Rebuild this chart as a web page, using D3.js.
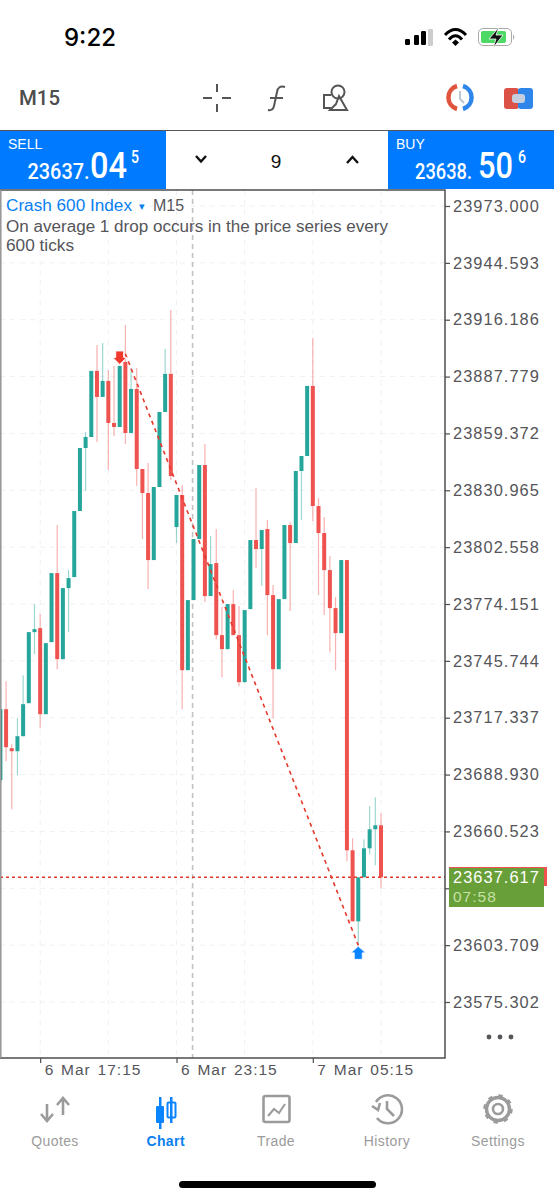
<!DOCTYPE html>
<html><head><meta charset="utf-8">
<script src="https://cdn.jsdelivr.net/npm/d3@7"></script>
<style>html,body{margin:0;padding:0;background:#fff}svg{display:block}text{font-family:"Liberation Sans",Arial,sans-serif}</style>
</head><body><svg id="c" width="554" height="1200"></svg>
<script>
const opens=[23686.1,23721.6,23702.1,23700.6,23708.1,23724.6,23760.1,23762.1,23719.1,23755.1,23789.6,23746.6,23782.1,23787.6,23820.6,23852.1,23857.6,23890.6,23877.6,23885.6,23864.6,23862.6,23895.1,23859.6,23881.6,23841.6,23829.6,23796.1,23832.6,23870.1,23889.1,23812.6,23828.6,23741.1,23776.1,23806.6,23843.6,23778.1,23794.6,23758.6,23751.6,23774.1,23758.6,23735.1,23771.6,23806.1,23801.6,23811.6,23778.6,23741.6,23776.6,23813.6,23804.6,23840.6,23848.1,23883.1,23823.1,23809.6,23791.1,23772.1,23759.6,23796.1,23651.1,23615.6,23637.6,23652.1,23661.6,23663.6];
const highs=[23721.6,23735.6,23704.1,23717.1,23738.6,23760.1,23774.1,23769.1,23754.6,23789.6,23813.6,23782.1,23791.1,23820.6,23852.1,23860.1,23890.6,23903.6,23904.6,23891.1,23893.1,23893.1,23913.6,23892.1,23892.1,23841.6,23844.6,23832.6,23870.1,23901.6,23921.1,23828.6,23833.6,23776.1,23806.6,23843.6,23854.1,23808.1,23811.6,23772.6,23774.1,23781.1,23773.1,23771.1,23806.1,23832.1,23811.1,23816.1,23783.6,23776.6,23813.6,23815.1,23840.6,23848.1,23883.1,23907.1,23827.1,23817.6,23798.1,23777.6,23796.1,23796.1,23657.1,23637.6,23656.6,23673.1,23677.6,23669.6];
const lows=[23686.1,23695.6,23671.6,23688.6,23708.1,23724.6,23749.1,23712.1,23719.1,23755.1,23741.6,23746.6,23760.1,23787.6,23820.6,23830.6,23857.6,23855.1,23877.6,23841.1,23858.1,23862.6,23854.1,23859.6,23833.1,23806.6,23781.6,23796.1,23832.6,23870.1,23836.1,23804.6,23721.6,23741.1,23776.1,23806.6,23775.1,23778.1,23756.6,23737.6,23751.6,23758.6,23733.1,23735.1,23771.6,23792.1,23783.1,23758.6,23717.1,23741.6,23776.6,23770.6,23804.6,23816.1,23848.1,23815.6,23778.6,23768.6,23750.1,23741.1,23759.6,23645.6,23615.6,23603.6,23637.6,23649.1,23643.6,23632.1];
const closes=[23721.6,23702.6,23700.6,23708.1,23724.1,23760.1,23761.6,23719.1,23754.6,23789.6,23746.6,23782.1,23787.1,23820.6,23852.1,23857.6,23890.6,23877.6,23885.6,23864.6,23862.6,23893.1,23859.6,23881.6,23841.6,23829.6,23796.1,23832.6,23870.1,23889.1,23838.1,23828.6,23741.1,23776.1,23806.6,23843.6,23778.1,23794.1,23758.6,23751.6,23774.1,23758.6,23735.1,23771.1,23806.1,23801.6,23811.1,23778.6,23741.6,23776.6,23813.6,23804.6,23840.6,23848.1,23883.1,23823.1,23809.6,23791.1,23772.1,23759.6,23796.1,23651.1,23615.6,23637.6,23652.1,23661.6,23663.6,23637.6];
const priceTicks=[23973.000,23944.593,23916.186,23887.779,23859.372,23830.965,23802.558,23774.151,23745.744,23717.337,23688.930,23660.523,23632.116,23603.709,23575.302];
const hiddenTick=23632.116;
const timeTickIdx=[7,31,55];
const timeTickLabels=["6 Mar 17:15","6 Mar 23:15","7 Mar 05:15"];
const gridIdx=[7,19,31,43,55,67];
const bidPrice=23637.617, countdown="07:58";
const tradeStart={i:22,p:23899.1}, tradeEnd={i:63,p:23603.6}, sellArrow={i:21,p:23899.6}, buyArrow={i:63,p:23603.6};

const RED="#ef5350",TEAL="#26a69a",BLUE="#0a84ff",GREY="#9a9a9a",DARK="#4a4a4f";
const svg=d3.select("#c");
const x=d3.scaleLinear().domain([0,67]).range([0.4,381]);
const y=d3.scaleLinear().domain([23973,23575.302]).range([206,1002]);
const L=0,R=445,T=190,B=1058;

// chart area
const grid=svg.append("g").attr("stroke","#eef0f2").attr("stroke-width",1).attr("stroke-dasharray","5 5");
grid.selectAll("line.h").data(priceTicks).join("line").attr("x1",L).attr("x2",R).attr("y1",d=>y(d)).attr("y2",d=>y(d));
grid.selectAll("line.v").data(gridIdx).join("line").attr("x1",d=>x(d)).attr("x2",d=>x(d)).attr("y1",T).attr("y2",B);
svg.append("line").attr("x1",192.6).attr("x2",192.6).attr("y1",T).attr("y2",B).attr("stroke","#c2c2c2").attr("stroke-width",1.6).attr("stroke-dasharray","5 4");

const idx=d3.range(opens.length), col=i=>closes[i]>=opens[i]?TEAL:RED;
svg.append("g").selectAll("line").data(idx).join("line")
 .attr("x1",x).attr("x2",x).attr("y1",i=>y(highs[i])).attr("y2",i=>y(lows[i]))
 .attr("stroke",col).attr("stroke-opacity",.45).attr("stroke-width",1.2);
svg.append("g").selectAll("rect").data(idx).join("rect")
 .attr("x",i=>x(i)-2).attr("width",4)
 .attr("y",i=>y(Math.max(opens[i],closes[i]))).attr("height",i=>Math.max(1,Math.abs(y(opens[i])-y(closes[i]))))
 .attr("fill",col);

// bid line, trade line
svg.append("line").attr("x1",L).attr("x2",R).attr("y1",y(bidPrice)).attr("y2",y(bidPrice)).attr("stroke","#e5392c").attr("stroke-width",1.6).attr("stroke-dasharray","3 3");
svg.append("line").attr("x1",x(tradeStart.i)).attr("y1",y(tradeStart.p)).attr("x2",x(tradeEnd.i)).attr("y2",y(tradeEnd.p)).attr("stroke","#e5392c").attr("stroke-width",1.6).attr("stroke-dasharray","4 4");

// arrows
const sx=x(sellArrow.i), sy=y(sellArrow.p), bx=x(buyArrow.i), by=y(buyArrow.p);
svg.append("path").attr("transform",`translate(${sx},${sy})`).attr("d","M-4,-2H4V4.5H7L0,11.5L-7,4.5H-4Z").attr("fill","#f0392b").attr("stroke","#fff").attr("stroke-width",1);
svg.append("path").attr("transform",`translate(${bx},${by+1})`).attr("d","M0,0L7.5,6.5H4V13H-4V6.5H-7.5Z").attr("fill",BLUE).attr("stroke","#fff").attr("stroke-width",.8);

// frame
svg.append("path").attr("d",`M${L+.5},${B}V${T}H${R}V${B}H${L}`).attr("fill","none").attr("stroke","#4d4d52").attr("stroke-width",1.5);
svg.append("line").attr("x1",.5).attr("x2",.5).attr("y1",T).attr("y2",B).attr("stroke","#999").attr("stroke-width",1.5);

// axes (the 23632.116 label sits behind the live price box in the reference)
const yAxis=d3.axisRight(y).tickValues(priceTicks).tickSize(5).tickPadding(3).tickFormat(d=>d===hiddenTick?"":d3.format(".3f")(d));
const gy=svg.append("g").attr("transform",`translate(${R},0)`).call(yAxis);
gy.select(".domain").remove();
gy.selectAll("line").attr("stroke","#4d4d52").attr("stroke-width",1.2);
gy.selectAll("text").attr("fill","#55555a").style("font-size","16.4px").style("letter-spacing","1.05px").style("font-family",'"Liberation Sans"');
const xAxis=d3.axisBottom(x).tickValues(timeTickIdx).tickSize(5).tickFormat((d,i)=>timeTickLabels[i]);
const gx=svg.append("g").attr("transform",`translate(0,${B})`).call(xAxis);
gx.select(".domain").remove();
gx.selectAll("line").attr("stroke","#4d4d52").attr("stroke-width",1.2);
gx.selectAll("text").attr("text-anchor","start").attr("x",4).attr("y",6).attr("fill","#55555a").style("font-size","15.5px").style("word-spacing","1.5px").style("letter-spacing","1px").style("font-family",'"Liberation Sans"');

// price label
svg.append("rect").attr("x",449).attr("y",867).attr("width",98).attr("height",19).attr("fill",RED);
svg.append("rect").attr("x",449).attr("y",868).attr("width",95).attr("height",39).attr("fill","#689f38");
const t=(tx,ty,s,size,fill,extra={})=>{const e=svg.append("text").attr("x",tx).attr("y",ty).text(s).attr("fill",fill).style("font-size",size+"px");
 Object.entries(extra).forEach(([k,v])=>{if(k=="ls")e.style("letter-spacing",v);else if(k=="w")e.style("font-weight",v);else if(k=="f")e.style("font-family",v);else e.attr(k,v)});return e};
t(453,883,d3.format(".3f")(bidPrice),16.4,"#fff",{ls:"1.05px"});
t(453,902,countdown,15.5,"#c5e1a5",{ls:"1px"});

// chart title
t(6,211,"Crash 600 Index",16,"#0a7ff0",{textLength:126,lengthAdjust:"spacingAndGlyphs"});
t(138.5,210,"▾",11,"#0a7ff0");
t(153,211,"M15",16,"#55555a");
t(6,232,"On average 1 drop occurs in the price series every",16,"#55555a",{textLength:382,lengthAdjust:"spacingAndGlyphs"});
t(6,251,"600 ticks",16,"#55555a",{textLength:68,lengthAdjust:"spacingAndGlyphs"});
svg.append("g").attr("fill","#55555a").selectAll("circle").data([489,500,511]).join("circle").attr("cx",d=>d).attr("cy",1037).attr("r",2.4);

// quote bar
svg.append("line").attr("x1",0).attr("x2",554).attr("y1",130.5).attr("y2",130.5).attr("stroke","#55555a").attr("stroke-width",1.2);
svg.append("rect").attr("x",0).attr("y",131).attr("width",166).attr("height",58).attr("fill","#007bff");
svg.append("rect").attr("x",388).attr("y",131).attr("width",166).attr("height",58).attr("fill","#007bff");
const cond={f:'"Roboto","Liberation Sans"'};
t(8,149,"SELL",14,"#fff");
t(27.5,179,"23637.",22,"#fff",{...cond,w:500,textLength:62,lengthAdjust:"spacingAndGlyphs"});
t(90,178,"04",37,"#fff",{...cond,w:500,textLength:37,lengthAdjust:"spacingAndGlyphs"});
t(131,163,"5",19,"#fff",{...cond,w:500,textLength:8,lengthAdjust:"spacingAndGlyphs"});
t(396,149,"BUY",14,"#fff");
t(415,179,"23638.",22,"#fff",{...cond,w:500,textLength:57,lengthAdjust:"spacingAndGlyphs"});
t(478,178,"50",37,"#fff",{...cond,w:500,textLength:35,lengthAdjust:"spacingAndGlyphs"});
t(518,163,"6",19,"#fff",{...cond,w:500,textLength:8,lengthAdjust:"spacingAndGlyphs"});
t(276,168,"9",19,"#111",{"text-anchor":"middle"});
svg.append("path").attr("d","M196,156L201,161.5L206,156").attr("fill","none").attr("stroke","#111").attr("stroke-width",2.4);
svg.append("path").attr("d","M347,163L352.5,157L358,163").attr("fill","none").attr("stroke","#111").attr("stroke-width",2.4);

// status bar
t(90,46,"9:22",24,"#000",{"text-anchor":"middle",w:500,f:'"Inter","Roboto"'});
svg.append("g").selectAll("rect").data([[405,39,5,6,"#000"],[414,35,5,10,"#000"],[421,31,5,14,"#000"],[428,29,5,17,"#ccc"]]).join("rect")
 .attr("x",d=>d[0]).attr("y",d=>d[1]).attr("width",d=>d[2]).attr("height",d=>d[3]).attr("rx",1.2).attr("fill",d=>d[4]);
svg.append("path").attr("d","M445,35Q455.5,24 466,35M449,39.5Q455.5,32 462,39.5").attr("fill","none").attr("stroke","#000").attr("stroke-width",3);
svg.append("path").attr("d","M452,42.5L455.5,39.5L459,42.5L455.5,46Z").attr("fill","#000");
svg.append("rect").attr("x",478.5).attr("y",28.5).attr("width",33).attr("height",17).attr("rx",4.5).attr("fill","#fff").attr("stroke","#aaa");
svg.append("rect").attr("x",481).attr("y",31).attr("width",25).attr("height",12).attr("rx",2).attr("fill","#4cd964");
svg.append("path").attr("d","M513,34v6q2.5,-3 0,-6").attr("fill","#aaa");
svg.append("path").attr("d","M499,27L489,39H496L493,48L503,35H496Z").attr("fill","#111").attr("stroke","#fff").attr("stroke-width",.8);

// toolbar
t(19,105,"M15",21,"#4d4d4d",{f:'"Roboto"',w:500,textLength:41,lengthAdjust:"spacingAndGlyphs"});
svg.append("path").attr("d","M217,84V92M217,104V112M203,98H212M222,98H231").attr("stroke","#555").attr("stroke-width",2).attr("fill","none");
svg.append("path").attr("d","M285,87Q278,85 277,92L274,106Q273,111 268,110M270,98H283").attr("stroke","#555").attr("stroke-width",2).attr("fill","none");
svg.append("path").attr("d","M331,95H324V108H331M336,104L330,110H347L339,96Z").attr("stroke","#555").attr("stroke-width",2).attr("fill","none");
svg.append("circle").attr("cx",338).attr("cy",92).attr("r",6.5).attr("stroke","#555").attr("stroke-width",2).attr("fill","none");
svg.append("path").attr("d","M457,86A12,12 0 0,0 457,109").attr("stroke","#e0533d").attr("stroke-width",4.5).attr("fill","none");
svg.append("path").attr("d","M463,86A12,12 0 0,1 463,109").attr("stroke","#2f86ea").attr("stroke-width",4.5).attr("fill","none");
svg.append("path").attr("d","M460,91V99L464,103").attr("stroke","#b6c2cf").attr("stroke-width",1.8).attr("fill","none");
svg.append("rect").attr("x",504).attr("y",88).attr("width",15).attr("height",21).attr("rx",3).attr("fill","#dc5145");
svg.append("rect").attr("x",518).attr("y",88).attr("width",15).attr("height",21).attr("rx",3).attr("fill","#2f86ea");
svg.append("rect").attr("x",512).attr("y",94).attr("width",13).attr("height",9).attr("rx",3).attr("fill","#c4cede");

// bottom nav
const navNames=["Quotes","Chart","Trade","History","Settings"];
const navX=[55,165.7,276,387,498];
svg.append("g").selectAll("text").data(navNames).join("text").attr("x",(d,i)=>navX[i]).attr("y",1146).attr("text-anchor","middle")
 .attr("fill",(d,i)=>i==1?"#0a7ff0":"#9b9b9b").style("font-size","14px").style("letter-spacing","0.4px").style("font-weight",(d,i)=>i==1?600:400).text(d=>d);
const ic=svg.append("g").attr("fill","none").attr("stroke","#9b9b9b").attr("stroke-width",2.6);
ic.append("path").attr("d","M47,1104V1120M41,1114L47,1121L53,1114M63,1099V1115M57,1105L63,1098L69,1105");
svg.append("g").attr("fill",BLUE).call(g=>{
 g.append("rect").attr("x",156).attr("y",1106).attr("width",8).attr("height",17).attr("rx",1);
 g.append("rect").attr("x",159).attr("y",1097).attr("width",2.5).attr("height",32);
 g.append("rect").attr("x",170).attr("y",1097).attr("width",2.5).attr("height",26);
 g.append("rect").attr("x",167.5).attr("y",1102.5).attr("width",8).attr("height",15).attr("rx",1).attr("fill","none").attr("stroke",BLUE).attr("stroke-width",2);
});
ic.append("rect").attr("x",263.5).attr("y",1096).attr("width",26).attr("height",26).attr("rx",2);
ic.append("path").attr("d","M268,1116L274,1109L279,1113L285,1104").attr("stroke-width",2);
ic.append("path").attr("d","M376,1102A14,14 0 1,1 377,1118M372,1106L378,1110L380,1103M387,1101V1109L394,1116");
ic.append("circle").attr("cx",498).attr("cy",1109).attr("r",5);
ic.append("circle").attr("cx",498).attr("cy",1109).attr("r",11.5).attr("stroke-width",3.4);
ic.append("circle").attr("cx",498).attr("cy",1109).attr("r",13).attr("stroke-dasharray","4.2 6").attr("stroke-width",3.5);
svg.append("rect").attr("x",179).attr("y",1181).attr("width",197).attr("height",7).attr("rx",3.5).attr("fill","#000");
</script></body></html>
